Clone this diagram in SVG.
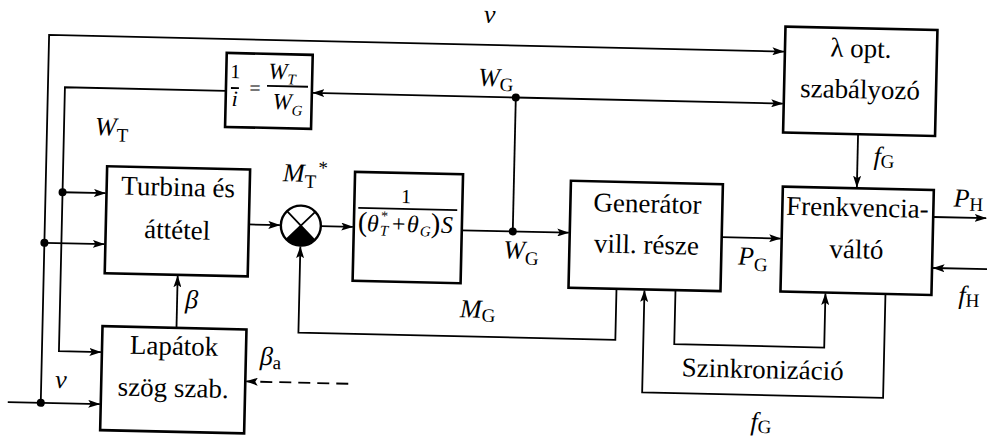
<svg xmlns="http://www.w3.org/2000/svg" width="987" height="443" viewBox="0 0 987 443" font-family="'Liberation Serif', 'DejaVu Serif', serif">
<style>
.box{fill:none;stroke:#000;stroke-width:2.6}
.ln{fill:none;stroke:#000;stroke-width:1.8}
.arr{marker-end:url(#ah)}
.dash{stroke-dasharray:12 7}
.dot{fill:#000}
text{font-family:'Liberation Serif','DejaVu Serif',serif;fill:#000}
.t{font-size:27px;text-anchor:middle}
.lb{font-size:26px;font-style:italic}
.sub{font-style:normal;font-size:19px}
.isub{font-style:italic;font-size:15px}
</style>
<defs>
<marker id="ah" viewBox="0 0 12 8" refX="11.5" refY="4" markerWidth="12" markerHeight="8" orient="auto" markerUnits="userSpaceOnUse"><path d="M0,0 L12,4 L0,8 L2.5,4 Z" fill="#000"/></marker>
</defs>
<rect width="987" height="443" fill="#fff"/>
<g transform="rotate(1.3 493 221)">
<g id="connectors">
<path class="ln arr" d="M12,413 H104"/>
<path class="ln arr" d="M45,413 V45 H780"/>
<path class="ln arr" d="M45,253 H105"/>
<path class="ln arr" d="M223,97 H62 V361 H104"/>
<path class="ln arr" d="M62,202 H105"/>
<path class="ln arr" d="M249,230 H280"/>
<path class="ln arr" d="M321,230 H353"/>
<path class="ln arr" d="M462,231 H569"/>
<path class="ln" d="M513,231 V97"/>
<path class="ln arr" d="M513,97 H780"/>
<path class="ln arr" d="M513,97 H310"/>
<path class="ln arr" d="M618,286 V337 H301 V251"/>
<path class="ln arr" d="M722,232 H781"/>
<path class="ln arr" d="M856,126 V179"/>
<path class="ln arr" d="M933,207 H986"/>
<path class="ln arr" d="M995,258 H934"/>
<path class="ln arr" d="M677,286 V340 H827 V286"/>
<path class="ln arr" d="M887,285 V389 H646 V287"/>
<path class="ln arr" d="M179,335 V283"/>
<path class="ln arr dash" d="M352,387 H250"/>
<circle class="dot" cx="45" cy="413" r="4"/>
<circle class="dot" cx="45" cy="253" r="4"/>
<circle class="dot" cx="62" cy="202" r="4"/>
<circle class="dot" cx="513" cy="97" r="4"/>
<circle class="dot" cx="513" cy="231" r="4"/>
</g>
<g id="ratio">
<rect class="box" x="223" y="59" width="86" height="74"/>
<text x="232" y="84" font-size="20" text-anchor="middle">1</text>
<line class="ln" x1="228" y1="94" x2="236" y2="94" stroke-width="1.2"/>
<text x="232" y="112" font-size="22" font-style="italic" text-anchor="middle">i</text>
<text x="252" y="100" font-size="20" text-anchor="middle">=</text>
<text x="265" y="84" font-size="23" font-style="italic">W<tspan class="isub" dy="5">T</tspan></text>
<line class="ln" x1="264" y1="91" x2="305" y2="91" stroke-width="1.4"/>
<text x="270" y="114" font-size="23" font-style="italic">W<tspan class="isub" dy="6">G</tspan></text>
</g>
<g id="lambda">
<rect class="box" x="781" y="20" width="152" height="106"/>
<text class="t" x="857" y="49">λ opt.</text>
<text class="t" x="857" y="90">szabályozó</text>
</g>
<g id="turbina">
<rect class="box" x="106" y="175" width="143" height="107"/>
<text class="t" x="177.5" y="203">Turbina és</text>
<text class="t" x="177.5" y="246">áttétel</text>
</g>
<g id="lapatok">
<rect class="box" x="105" y="335" width="144" height="104"/>
<text class="t" x="177" y="362">Lapátok</text>
<text class="t" x="177" y="404">szög szab.</text>
</g>
<g id="junction">
<circle cx="301" cy="230" r="20" fill="#fff" stroke="#000" stroke-width="2.4"/>
<path d="M301,230 L286.9,244.1 A20,20 0 0 0 315.1,244.1 Z" fill="#000"/>
<path class="ln" d="M286.9,215.9 L315.1,244.1 M315.1,215.9 L286.9,244.1"/>
</g>
<g id="transfer">
<rect class="box" x="354" y="175" width="108" height="109"/>
<text x="405.5" y="205" font-size="20" text-anchor="middle">1</text>
<line class="ln" x1="358" y1="211" x2="457" y2="211" stroke-width="1.4"/>
<text y="234" font-size="24"><tspan x="358" font-size="28">(</tspan><tspan x="367" font-style="italic">θ</tspan><tspan x="380" dy="4" class="isub" font-size="13">T</tspan><tspan x="381" dy="-15" font-size="14">*</tspan><tspan x="392" dy="11">+</tspan><tspan x="407" font-style="italic">θ</tspan><tspan x="420" dy="4" class="isub" font-size="13">G</tspan><tspan x="431" dy="-4" font-size="28">)</tspan><tspan x="441" font-style="italic">S</tspan></text>
</g>
<g id="generator">
<rect class="box" x="570" y="179" width="152" height="107"/>
<text class="t" x="647" y="209">Generátor</text>
<text class="t" x="647" y="250">vill. része</text>
</g>
<g id="frekvencia">
<rect class="box" x="782" y="180" width="151" height="105"/>
<text class="t" x="857" y="208">Frenkvencia-</text>
<text class="t" x="857" y="250">váltó</text>
</g>
<g id="labels">
<text class="lb" x="485" y="23" text-anchor="middle">v</text>
<text class="lb" x="475" y="86">W<tspan class="sub" dy="5">G</tspan></text>
<text class="lb" x="93" y="144">W<tspan class="sub" dy="6">T</tspan></text>
<text class="lb" x="282" y="186">M<tspan class="sub" dy="6">T</tspan><tspan class="sub" dx="2" dy="-14">*</tspan></text>
<text class="lb" x="504" y="258">W<tspan class="sub" dy="6">G</tspan></text>
<text class="lb" x="462" y="318">M<tspan class="sub" dy="4">G</tspan></text>
<text class="lb" x="739" y="259">P<tspan class="sub" dy="6">G</tspan></text>
<text class="lb" x="953" y="196">P<tspan class="sub" dy="4">H</tspan></text>
<text class="lb" x="960" y="293">f<tspan class="sub" dy="3">H</tspan></text>
<text class="lb" x="872" y="156">f<tspan class="sub" dy="3">G</tspan></text>
<text class="lb" x="755" y="424">f<tspan class="sub" dy="3">G</tspan></text>
<text class="t" x="766" y="372">Szinkronizáció</text>
<text class="lb" x="187" y="315">β</text>
<text class="lb" x="263" y="370">β<tspan class="sub" dy="4">a</tspan></text>
<text class="lb" x="59" y="398">v</text>
</g>
</g>
</svg>
